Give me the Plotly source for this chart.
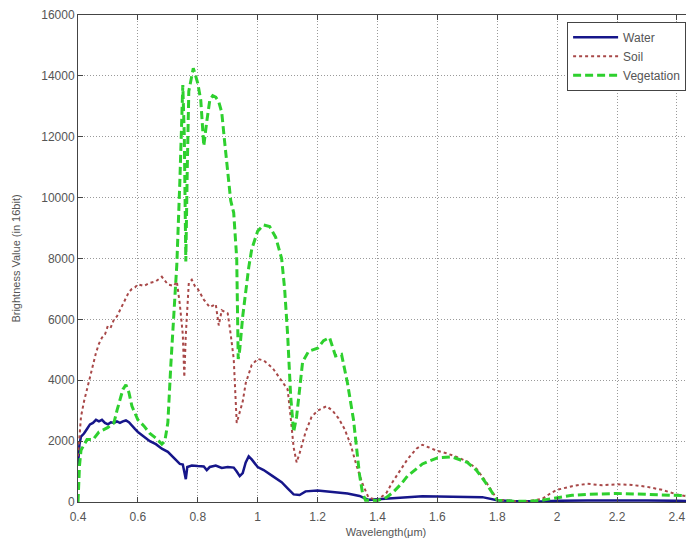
import plotly.graph_objects as go

water_wl = [0.40, 0.405, 0.41, 0.42, 0.43, 0.44, 0.45, 0.46, 0.47, 0.48, 0.49, 0.50, 0.51, 0.52, 0.53, 0.54,
            0.55, 0.56, 0.57, 0.58, 0.59, 0.60, 0.62, 0.64, 0.66, 0.68, 0.70, 0.72, 0.74, 0.75, 0.755, 0.76,
            0.765, 0.78, 0.80, 0.82, 0.83, 0.84, 0.86, 0.88, 0.90, 0.92, 0.93, 0.94, 0.95, 0.96, 0.97, 0.98,
            1.00, 1.02, 1.05, 1.08, 1.10, 1.12, 1.14, 1.16, 1.20, 1.25, 1.30, 1.34, 1.37, 1.40, 1.45, 1.50,
            1.55, 1.60, 1.70, 1.75, 1.80, 1.85, 1.95, 2.00, 2.10, 2.20, 2.30, 2.40, 2.45]
water_val = [1200, 1900, 2150, 2250, 2400, 2550, 2600, 2700, 2650, 2700, 2600, 2550, 2620, 2600, 2650, 2600,
             2650, 2680, 2620, 2500, 2400, 2300, 2150, 2000, 1900, 1750, 1650, 1450, 1250, 1230, 1000, 750,
             1150, 1200, 1180, 1170, 1050, 1150, 1200, 1120, 1150, 1130, 1000, 850, 950, 1300, 1500, 1400,
             1150, 1050, 850, 650, 450, 250, 230, 350, 380, 330, 280, 200, 70, 90, 130, 170,
             190, 180, 170, 160, 60, 30, 20, 40, 50, 60, 50, 40, 30]

soil_wl = [0.40, 0.405, 0.41, 0.42, 0.43, 0.44, 0.45, 0.46, 0.47, 0.48, 0.49, 0.50, 0.51, 0.52, 0.53, 0.54,
           0.55, 0.56, 0.57, 0.58, 0.59, 0.60, 0.62, 0.64, 0.66, 0.68, 0.70, 0.72, 0.73, 0.74, 0.75, 0.755,
           0.76, 0.77, 0.78, 0.79, 0.80, 0.82, 0.84, 0.86, 0.87, 0.88, 0.90, 0.91, 0.92, 0.93, 0.94, 0.95,
           0.96, 0.97, 0.98, 1.00, 1.02, 1.05, 1.08, 1.10, 1.11, 1.12, 1.13, 1.14, 1.16, 1.18, 1.20, 1.23,
           1.25, 1.27, 1.29, 1.31, 1.33, 1.35, 1.37, 1.40, 1.43, 1.45, 1.48, 1.50, 1.53, 1.55, 1.57, 1.60,
           1.63, 1.66, 1.70, 1.73, 1.76, 1.78, 1.80, 1.85, 1.90, 1.95, 1.98, 2.00, 2.05, 2.10, 2.15, 2.20,
           2.25, 2.30, 2.35, 2.40, 2.45]
soil_val = [1500, 2300, 2800, 3300, 3700, 4000, 4500, 4900, 5200, 5400, 5500, 5800, 5750, 6000, 6100, 6300,
            6550, 6700, 6900, 7000, 7050, 7150, 7100, 7200, 7250, 7400, 7150, 7100, 7250, 6500, 5500, 4100,
            5500, 7200, 7300, 7100, 7000, 6650, 6400, 6500, 5800, 6300, 6200, 5500, 4700, 2600, 3000, 3300,
            3900, 4200, 4500, 4700, 4650, 4400, 4000, 3700, 2800, 1800, 1300, 1600, 2300, 2800, 3000, 3150,
            3000, 2750, 2400, 1900, 1200, 600, 150, 60, 300, 650, 1100, 1400, 1750, 1880, 1800, 1680,
            1600, 1500, 1330, 1100, 700, 380, 80, 30, 20, 100, 300, 400, 520, 600, 550, 580,
            560, 500, 400, 250, 150]

veg_wl = [0.40, 0.405, 0.41, 0.42, 0.43, 0.45, 0.47, 0.50, 0.52, 0.53, 0.54, 0.55, 0.56, 0.57, 0.58, 0.60,
          0.62, 0.64, 0.66, 0.68, 0.69, 0.70, 0.71, 0.72, 0.73, 0.74, 0.75, 0.755, 0.76, 0.765, 0.77, 0.78,
          0.785, 0.79, 0.80, 0.81, 0.82, 0.83, 0.84, 0.85, 0.86, 0.87, 0.88, 0.89, 0.90, 0.91, 0.92, 0.93,
          0.935, 0.94, 0.95, 0.96, 0.97, 0.98, 1.00, 1.02, 1.04, 1.06, 1.08, 1.09, 1.10, 1.11, 1.12, 1.13,
          1.14, 1.15, 1.17, 1.20, 1.22, 1.24, 1.25, 1.26, 1.28, 1.30, 1.32, 1.33, 1.34, 1.35, 1.36, 1.40,
          1.43, 1.45, 1.48, 1.50, 1.53, 1.55, 1.60, 1.65, 1.70, 1.73, 1.76, 1.78, 1.80, 1.85, 1.90, 1.95,
          2.00, 2.05, 2.10, 2.20, 2.30, 2.35, 2.40, 2.45]
veg_val = [0, 1200, 1700, 1900, 2050, 2050, 2300, 2450, 2600, 3000, 3400, 3700, 3850, 3600, 3150, 2700,
           2500, 2250, 2100, 1900, 2000, 2600, 4500, 6300, 7800, 10500, 13700, 12000, 7900, 11000, 13500, 14000,
           14250, 14100, 13750, 13200, 11700, 12500, 13200, 13350, 13300, 13150, 12800, 11800, 10800, 9900, 9500, 8000,
           4700, 5000, 6100, 7000, 7700, 8300, 8900, 9100, 9050, 8700, 8000, 7000, 5500, 3500, 2300, 2800,
           3700, 4600, 4950, 5050, 5300, 5400, 5100, 4800, 4850, 3900, 2700, 1800, 900, 300, 60, 50,
           150, 300, 600, 850, 1100, 1250, 1450, 1480, 1300, 1050, 650, 350, 60, 30, 20, 60,
           150, 220, 250, 280, 250, 230, 200, 200]

x_ticks = [0.4, 0.6, 0.8, 1.0, 1.2, 1.4, 1.6, 1.8, 2.0, 2.2, 2.4]
x_tick_text = ["0.4", "0.6", "0.8", "1", "1.2", "1.4", "1.6", "1.8", "2", "2.2", "2.4"]
y_ticks = [0, 2000, 4000, 6000, 8000, 10000, 12000, 14000, 16000]
y_tick_text = ["0", "2000", "4000", "6000", "8000", "10000", "12000", "14000", "16000"]

FONT = "Liberation Sans, Arial"

fig = go.Figure()
fig.add_trace(go.Scatter(x=water_wl, y=water_val, mode="lines", name="Water",
                         line=dict(color="#16168a", width=2.5)))
fig.add_trace(go.Scatter(x=soil_wl, y=soil_val, mode="lines", name="Soil",
                         line=dict(color="#a84848", width=2, dash="dot")))
fig.add_trace(go.Scatter(x=veg_wl, y=veg_val, mode="lines", name="Vegetation",
                         line=dict(color="#2ed02e", width=3, dash="8px,4px")))

axis_common = dict(showline=True, linecolor="#444", linewidth=1, mirror="ticks",
                   ticks="inside", ticklen=5, tickcolor="#444", automargin=False,
                   showgrid=True, gridcolor="#9a9a9a", griddash="1px,2px", gridwidth=1,
                   zeroline=False, tickfont=dict(family=FONT, size=12, color="#555"))

fig.update_xaxes(range=[0.4, 2.457], tickvals=x_ticks, ticktext=x_tick_text, ticklabelstandoff=4,
                 title=dict(text="Wavelength(μm)", font=dict(family=FONT, size=11, color="#555"),
                            standoff=4),
                 **axis_common)
fig.update_yaxes(range=[0, 16000], tickvals=y_ticks, ticktext=y_tick_text,
                 title=dict(text="Brightness Value (in 16bit)",
                            font=dict(family=FONT, size=11, color="#555"), standoff=18),
                 **axis_common)

fig.update_layout(
    width=686, height=539,
    margin=dict(l=70, r=0, t=7, b=45, autoexpand=False),
    paper_bgcolor="white", plot_bgcolor="white",
    legend=dict(x=0.794, y=0.986, xanchor="left", yanchor="top",
                bgcolor="white", bordercolor="#444", borderwidth=1,
                font=dict(family=FONT, size=12, color="#555"),
                itemwidth=45, tracegroupgap=0),
    showlegend=True,
)

fig.write_html("out.html")
